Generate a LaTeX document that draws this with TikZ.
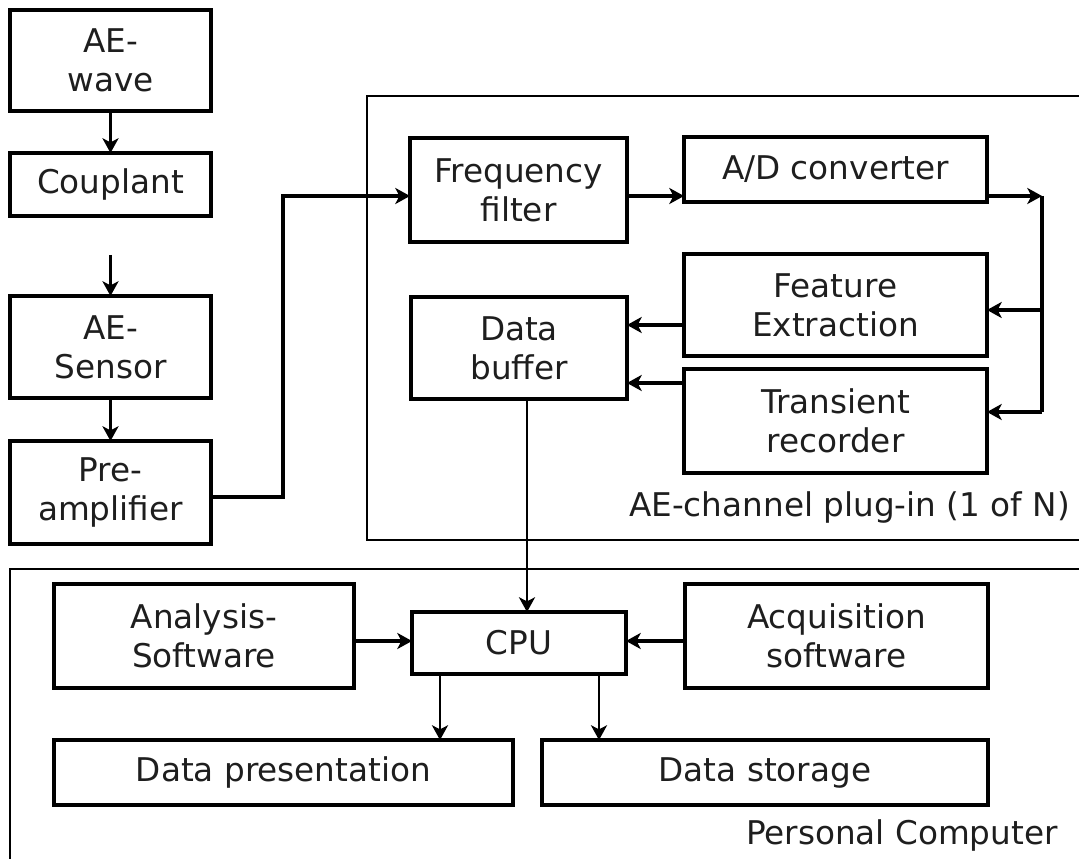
\documentclass[tikz,border=0pt]{standalone}
\usepackage{fontspec}
\setmainfont{DejaVu Sans}
\usetikzlibrary{arrows.meta}
\definecolor{txt}{RGB}{30,30,30}
\tikzset{
  blk/.style={draw, line width=3.4pt, inner sep=0pt, outer sep=0pt, align=center,
    text=txt, font=\fontsize{24.5}{29.2}\selectfont},
  sz/.style 2 args={minimum width=#1*0.75pt, minimum height=#2*0.75pt},
  conn/.style={line width=2.8pt},
  arr/.style={conn, -{Stealth[length=11pt,width=12pt,inset=3pt]}},
  frame/.style={line width=1.6pt},
  lbl/.style={font=\fontsize{24.5}{29.2}\selectfont, text=txt, inner sep=0pt, anchor=east}
}
\begin{document}
\begin{tikzpicture}[x=0.75pt,y=-0.75pt]
\useasboundingbox (0,0) rectangle (1079,859);
% containers
\draw[frame] (1085,96) -- (367,96) -- (367,540) -- (1085,540);
\draw[frame] (1085,569) -- (10,569) -- (10,865);
\node[lbl] (chlabel) at (1070,507) {AE-channel plug-in (1 of N)};
\node[lbl] (pclabel) at (1058,835) {Personal Computer};
% left column
\node[blk, sz={201}{101}] (aewave) at (110.5,60.5) {AE-\\wave};
\node[blk, sz={201}{63}] (coup) at (110.5,184.5) {Couplant};
\node[blk, sz={201}{102}] (sensor) at (110.5,347) {AE-\\Sensor};
\node[blk, sz={201}{103}] (pre) at (110.5,492.5) {Pre-\\amplifier};
% channel plug-in
\node[blk, sz={217}{104}] (ff) at (518.5,190) {Frequency\\filter};
\node[blk, sz={303}{65}] (ad) at (835.5,169.5) {A/D converter};
\node[blk, sz={303}{102}] (fe) at (835.5,305) {Feature\\Extraction};
\node[blk, sz={303}{104}] (tr) at (835.5,421) {Transient\\recorder};
\node[blk, sz={216}{102}] (db) at (519,348) {Data\\buffer};
% personal computer
\node[blk, sz={300}{104}] (as) at (204,636) {Analysis-\\Software};
\node[blk, sz={214}{62}] (cpu) at (519,643) {CPU};
\node[blk, sz={303}{104}] (acq) at (836.5,636) {Acquisition\\software};
\node[blk, sz={459}{65}] (dp) at (283.5,772.5) {Data presentation};
\node[blk, sz={446}{65}] (ds) at (765,772.5) {Data storage};
% helper coordinates
\coordinate (c1) at (110.5,255);
\coordinate (p1) at (211,497);
\coordinate (j1) at (283,196);
\coordinate (j2) at (1042,196);
\coordinate (jfe) at (1042,310);
\coordinate (jtr) at (1042,412);
\coordinate (yfe) at (650,325);
\coordinate (ytr) at (650,383);
\coordinate (xdb) at (527,400);
\coordinate (ycpu) at (500,641);
\coordinate (xdp) at (440,700);
\coordinate (xds) at (599,700);
% connectors
\draw[arr] (aewave) -- (coup);
\draw[arr] (c1) -- (c1 |- sensor.north);
\draw[arr] (sensor) -- (pre);
\draw[arr] (p1 -| pre.east) -| (j1) -- (j1 -| ff.west);
\draw[arr] (j1 -| ff.east) -- (j1 -| ad.west);
\draw[arr] (j1 -| ad.east) -- (j2);
\draw[conn] (j2) -- (jtr);
\draw[arr] (jfe) -- (jfe -| fe.east);
\draw[arr] (jtr) -- (jtr -| tr.east);
\draw[arr] (yfe -| fe.west) -- (yfe -| db.east);
\draw[arr] (ytr -| tr.west) -- (ytr -| db.east);
\draw[arr, line width=2pt] (xdb |- db.south) -- (xdb |- cpu.north);
\draw[arr] (ycpu -| as.east) -- (ycpu -| cpu.west);
\draw[arr] (ycpu -| acq.west) -- (ycpu -| cpu.east);
\draw[arr, line width=2.2pt] (xdp |- cpu.south) -- (xdp |- dp.north);
\draw[arr, line width=2.2pt] (xds |- cpu.south) -- (xds |- ds.north);
\end{tikzpicture}
\end{document}
